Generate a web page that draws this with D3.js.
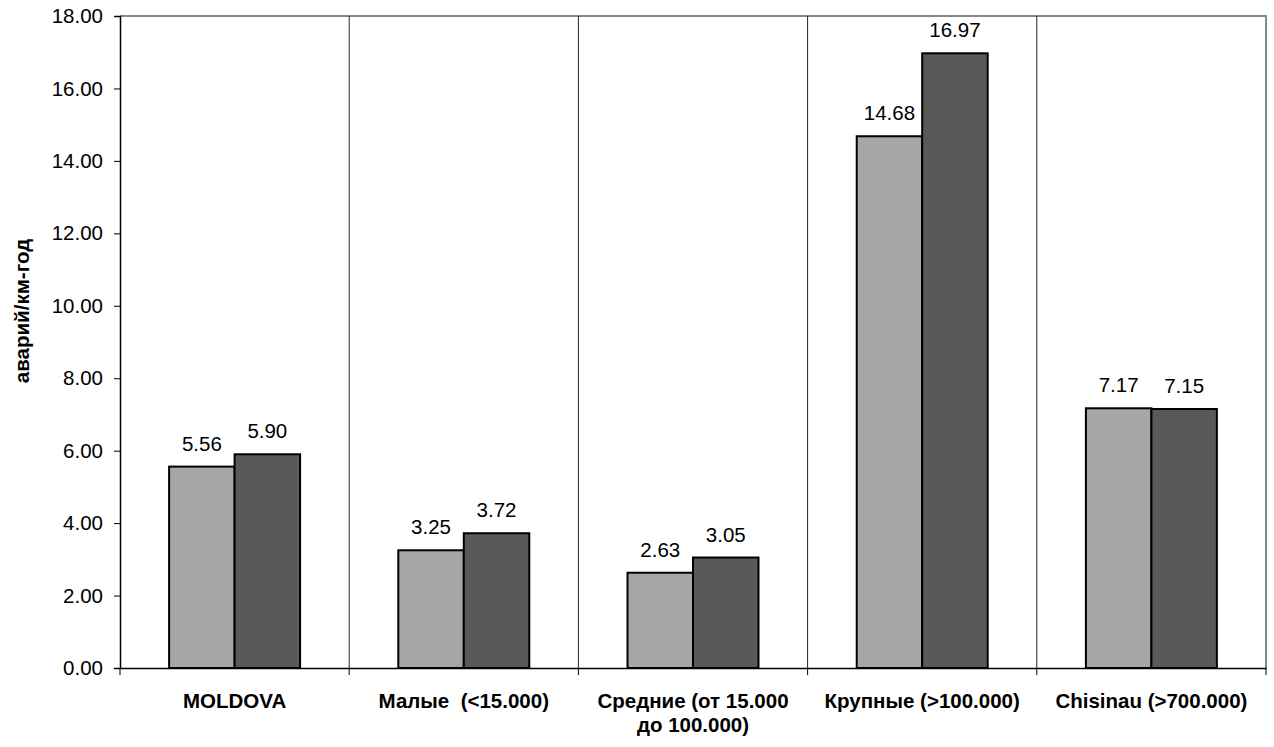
<!DOCTYPE html>
<html>
<head>
<meta charset="utf-8">
<script src="https://cdn.jsdelivr.net/npm/d3@7"></script>
<style>
  html, body { margin: 0; padding: 0; background: #fff; }
  svg { display: block; font-family: "Liberation Sans", Arial, sans-serif; }
</style>
</head>
<body>
<svg id="chart" width="1274" height="747"></svg>
<script>
// Accident rate per km of road per year, by settlement size
const categories = [
  ["MOLDOVA"],
  ["Малые  (<15.000)"],
  ["Средние (от 15.000", "до 100.000)"],
  ["Крупные (>100.000)"],
  ["Chisinau (>700.000)"]
];
const seriesA = [5.56, 3.25, 2.63, 14.68, 7.17];
const seriesB = [5.90, 3.72, 3.05, 16.97, 7.15];
const yTicks = [0, 2, 4, 6, 8, 10, 12, 14, 16, 18];
const yTitle = "аварий/км-год";

const svg = d3.select("#chart");
const margin = { left: 120, right: 8, top: 16, bottom: 79 };
const W = 1274, H = 747;
const x0 = margin.left, x1 = W - margin.right;
const y0 = H - margin.bottom, y1 = margin.top;

const x = d3.scaleBand().domain(d3.range(categories.length)).range([x0, x1]).padding(0);
const y = d3.scaleLinear().domain([0, 18]).range([y0, y1]);

// Two bars per category with a 150% gap between groups
const barW = x.bandwidth() / 3.5;

// Plot border (top and right)
svg.append("path")
  .attr("d", `M${x0},${y1}H${x1}V${y0}`)
  .attr("fill", "none").attr("stroke", "#888").attr("stroke-width", 2);

// Category separators
svg.selectAll("line.sep").data(d3.range(1, categories.length)).join("line")
  .attr("class", "sep")
  .attr("x1", i => x(i)).attr("x2", i => x(i))
  .attr("y1", y1).attr("y2", y0)
  .attr("stroke", "#222").attr("stroke-width", 1);

// Bars and value labels
const series = [
  { values: seriesA, fill: "#a6a6a6", offset: -1 },
  { values: seriesB, fill: "#595959", offset: 0 }
];
series.forEach(s => {
  svg.selectAll(null).data(s.values).join("rect")
    .attr("x", (d, i) => x(i) + x.bandwidth() / 2 + s.offset * barW)
    .attr("y", d => y(d))
    .attr("width", barW)
    .attr("height", d => y(0) - y(d))
    .attr("fill", s.fill)
    .attr("stroke", "#000").attr("stroke-width", 2);
  svg.selectAll(null).data(s.values).join("text")
    .attr("x", (d, i) => x(i) + x.bandwidth() / 2 + (s.offset + 0.5) * barW)
    .attr("y", d => y(d) - 16)
    .attr("text-anchor", "middle")
    .attr("font-size", 20.5)
    .attr("fill", "#000")
    .text(d => d.toFixed(2));
});

// Y axis
const yAxis = d3.axisLeft(y).tickValues(yTicks).tickFormat(d3.format(".2f")).tickSize(6).tickPadding(11);
const gy = svg.append("g").attr("transform", `translate(${x0},0)`).call(yAxis);
gy.select(".domain").attr("stroke", "#000").attr("stroke-width", 1.5);
gy.selectAll(".tick line").attr("stroke", "#000");
gy.selectAll(".tick text").attr("font-size", 20.5).attr("fill", "#000")
  .attr("font-family", "Liberation Sans, Arial, sans-serif");

// X axis: baseline and boundary ticks
const xAxis = d3.axisBottom(x).tickValues([]).tickSizeOuter(0);
const gx = svg.append("g").attr("transform", `translate(0,${y0})`).call(xAxis);
gx.select(".domain").attr("stroke", "#000").attr("stroke-width", 1.5);
svg.selectAll("line.xt").data(d3.range(categories.length + 1)).join("line")
  .attr("class", "xt")
  .attr("x1", i => i < categories.length ? x(i) : x1)
  .attr("x2", i => i < categories.length ? x(i) : x1)
  .attr("y1", y0).attr("y2", y0 + 7)
  .attr("stroke", "#000").attr("stroke-width", 1);

// Category labels
const lab = svg.selectAll("text.cat").data(categories).join("text")
  .attr("class", "cat")
  .attr("text-anchor", "middle")
  .attr("font-size", 20.5).attr("font-weight", "bold").attr("fill", "#000")
  .attr("transform", (d, i) => `translate(${x(i) + x.bandwidth() / 2},${y0 + 40})`);
lab.selectAll("tspan").data(d => d).join("tspan")
  .attr("x", 0).attr("dy", (d, j) => j === 0 ? 0 : 24)
  .style("white-space", "pre")
  .text(d => d);

// Y title
svg.append("text")
  .attr("transform", `translate(29,311) rotate(-90)`)
  .attr("text-anchor", "middle")
  .attr("font-size", 20.5).attr("font-weight", "bold").attr("fill", "#000")
  .text(yTitle);
</script>
</body>
</html>
